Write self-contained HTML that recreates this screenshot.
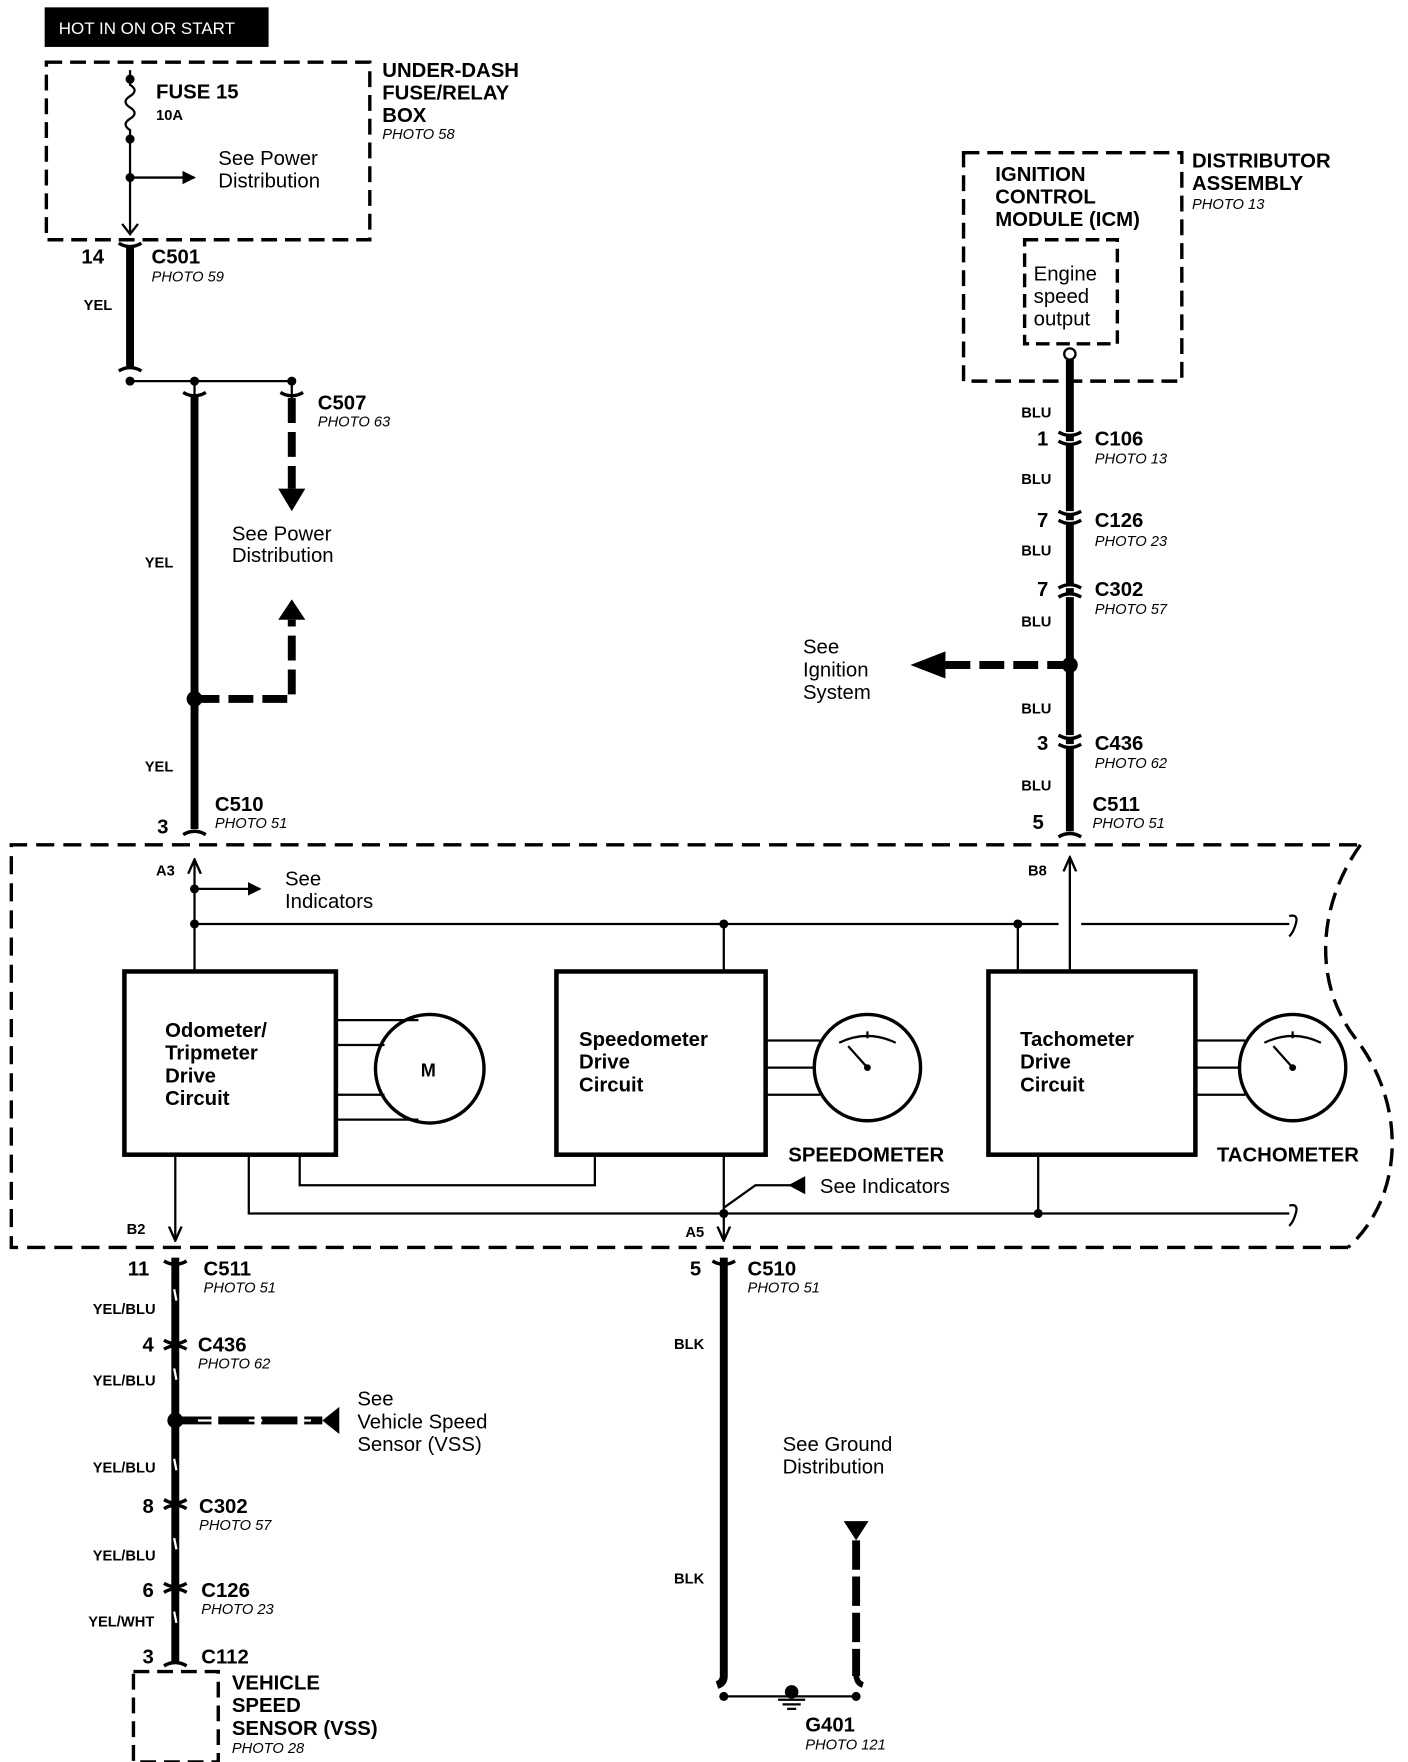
<!DOCTYPE html>
<html><head><meta charset="utf-8"><style>
html,body{margin:0;padding:0;background:#fff;}
svg{display:block}
text{font-family:"Liberation Sans",Arial,sans-serif;fill:#000}
.b{font-weight:bold;font-size:18px}
.s{font-weight:bold;font-size:13px}
.p{font-style:italic;font-size:13px}
.n{font-size:18px}
</style></head><body>
<svg width="1408" height="1762" viewBox="0 0 1245 1558" preserveAspectRatio="none" xmlns="http://www.w3.org/2000/svg">
<defs>
<marker id="ah" viewBox="0 0 10 10" refX="9" refY="5" markerWidth="6" markerHeight="6" orient="auto"><path d="M0 0 L10 5 L0 10 z" fill="#000"/></marker>
<marker id="oa" viewBox="0 0 10 10" refX="9" refY="5" markerWidth="7" markerHeight="7" orient="auto"><path d="M0 1 L9 5 L0 9" fill="none" stroke="#000" stroke-width="1.5"/></marker>
</defs>
<g stroke="#000" fill="none">
<rect x="40" y="7" width="197" height="34" fill="#000"/>
<rect x="41" y="55" width="286" height="157" stroke-width="3" stroke-dasharray="14,7"/>
<path d="M115 62 V75 q8 5 0 10 q-8 5 0 10 q8 5 0 10 q-8 5 0 10 V205" stroke-width="2"/>
<path d="M108 198 L115 207 L122 198" stroke-width="2"/>
<path d="M115 157 H172" stroke-width="2" marker-end="url(#ah)"/>
<path d="M115 218 V325" stroke-width="7"/>
<path d="M105 215 q10 6 20 0 M105 328 q10 -6 20 0" stroke-width="3"/>
<path d="M115 337 H258" stroke-width="2"/>
<path d="M172 350 V733" stroke-width="7"/>
<path d="M162 347 q10 6 20 0 M162 738 q10 -6 20 0 M248 347 q10 6 20 0" stroke-width="3"/>
<path d="M258 352 V432" stroke-width="7" stroke-dasharray="22,8"/>
<path d="M172 337 V352 M258 337 V352" stroke-width="2"/>
<path d="M172 618 H258 V548" stroke-width="7" stroke-dasharray="22,8"/>
<rect x="852" y="135" width="193" height="202" stroke-width="3" stroke-dasharray="14,7"/>
<rect x="906" y="212" width="82" height="92" stroke-width="3" stroke-dasharray="12,6"/>
<path d="M946 318 V735" stroke-width="7"/>
<path d="M836 588 H946" stroke-width="7" stroke-dasharray="22,8"/>
<g stroke-width="3" fill="#fff">
<path d="M936 382 q10 6 20 0 M936 390 q10 6 20 0"/>
<path d="M936 452 q10 6 20 0 M936 460 q10 6 20 0"/>
<path d="M936 520 q10 -6 20 0 M936 528 q10 -6 20 0"/>
<path d="M936 650 q10 6 20 0 M936 658 q10 6 20 0"/>
<path d="M936 740 q10 -6 20 0"/>
</g>
<path d="M1192 1103 H10 V747 H1203" stroke-width="3" stroke-dasharray="16,8"/>
<path d="M1203 747 C1165 800,1160 870,1200 920 C1245 980,1240 1060,1192 1103" stroke-width="3" stroke-dasharray="16,8"/>
<path d="M172 858 V760" stroke-width="2" marker-end="url(#oa)"/>
<path d="M172 786 H230" stroke-width="2" marker-end="url(#ah)"/>
<path d="M172 817 H936 M956 817 H1140" stroke-width="2"/>
<path d="M1140 810 q8 -2 6 6 q-2 8 -6 12" stroke-width="2"/>
<path d="M640 817 V858 M900 817 V858" stroke-width="2"/>
<path d="M946 858 V758" stroke-width="2" marker-end="url(#oa)"/>
<rect x="110" y="859" width="187" height="162" stroke-width="4"/>
<rect x="492" y="859" width="185" height="162" stroke-width="4"/>
<rect x="874" y="859" width="183" height="162" stroke-width="4"/>
<circle cx="380" cy="945" r="48" stroke-width="3"/>
<path d="M297 902 H370 M297 924 H340 M297 968 H340 M297 990 H370" stroke-width="2"/>
<circle cx="767" cy="944" r="47" stroke-width="3"/>
<path d="M677 920 H725 M677 944 H720 M677 968 H725" stroke-width="2"/>
<path d="M742 922 Q767 910 792 922 M767 912 V918 M750 925 L767 944" stroke-width="2"/>
<circle cx="1143" cy="944" r="47" stroke-width="3"/>
<path d="M1057 920 H1101 M1057 944 H1096 M1057 968 H1101" stroke-width="2"/>
<path d="M1118 922 Q1143 910 1168 922 M1143 912 V918 M1126 925 L1143 944" stroke-width="2"/>
<path d="M155 1021 V1097" stroke-width="2" marker-end="url(#oa)"/>
<path d="M220 1021 V1073 H1140 M918 1021 V1073" stroke-width="2"/>
<path d="M1140 1066 q8 -2 6 6 q-2 8 -6 12" stroke-width="2"/>
<path d="M265 1021 V1048 H526 V1021" stroke-width="2"/>
<path d="M640 1021 V1097" stroke-width="2" marker-end="url(#oa)"/>
<path d="M640 1068 L668 1048 H700" stroke-width="2"/>
<path d="M155 1112 V1470" stroke-width="7"/>
<path d="M155 1256 H285" stroke-width="7" stroke-dasharray="32,6"/>
<g stroke-width="3">
<path d="M145 1115 q10 6 20 0"/>
<path d="M145 1185 q10 6 20 0 M145 1193 q10 -6 20 0"/>
<path d="M145 1326 q10 6 20 0 M145 1334 q10 -6 20 0"/>
<path d="M145 1400 q10 6 20 0 M145 1408 q10 -6 20 0"/>
<path d="M145 1473 q10 -6 20 0"/>
</g>
<rect x="118" y="1478" width="75" height="80" stroke-width="3" stroke-dasharray="14,7"/>
<path d="M640 1112 V1482 q0 6 -6 8" stroke-width="7"/>
<path d="M630 1115 q10 6 20 0" stroke-width="3"/>
<path d="M757 1362 V1482" stroke-width="7" stroke-dasharray="26,6"/>
<path d="M757 1480 q0 8 6 10" stroke-width="5"/>
<path d="M640 1500 H757" stroke-width="2"/>
</g>
<g fill="#000">
<path d="M246 432 H270 L258 452 z"/>
<path d="M246 548 H270 L258 530 z"/>
<path d="M836 576 V600 L805 588 z"/>
<path d="M746 1345 H768 L757 1362 z"/>
<path d="M697 1048 L712 1040 V1056 z"/>
<circle cx="115" cy="70" r="4"/><circle cx="115" cy="123" r="4"/><circle cx="115" cy="157" r="4"/>
<circle cx="115" cy="337" r="4"/><circle cx="172" cy="337" r="4"/><circle cx="258" cy="337" r="4"/>
<circle cx="172" cy="618" r="7"/><circle cx="946" cy="588" r="7"/><circle cx="155" cy="1256" r="7"/>
<circle cx="172" cy="786" r="4"/><circle cx="172" cy="817" r="4"/><circle cx="640" cy="817" r="4"/><circle cx="900" cy="817" r="4"/>
<circle cx="640" cy="1073" r="4"/><circle cx="918" cy="1073" r="4"/>
<circle cx="640" cy="1500" r="4"/><circle cx="757" cy="1500" r="4"/>
<circle cx="767" cy="944" r="3"/><circle cx="1143" cy="944" r="3"/>
<circle cx="700" cy="1496" r="6"/>
</g>
<path d="M688 1503 H712 M692 1507 H708 M696 1511 H704" stroke="#000" stroke-width="2"/>
<circle cx="946" cy="313" r="5" fill="#fff" stroke="#000" stroke-width="2"/>
<g stroke="#fff" stroke-width="2">
<path d="M154 1140 l2 10 M154 1210 l2 10 M154 1290 l2 10 M154 1360 l2 10 M154 1425 l2 10"/>
<path d="M175 1256 h12 M220 1256 h12 M265 1256 h10"/>
</g>
<path d="M300 1244 V1268 L285 1256 z" fill="#000"/>

<text x="52" y="30" style="fill:#fff;font-size:15px">HOT IN ON OR START</text>
<text x="138" y="87" class="b">FUSE 15</text>
<text x="138" y="106" class="s">10A</text>
<text x="193" y="146" class="n">See Power</text>
<text x="193" y="166" class="n">Distribution</text>
<text x="338" y="68" class="b">UNDER-DASH</text>
<text x="338" y="88" class="b">FUSE/RELAY</text>
<text x="338" y="108" class="b">BOX</text>
<text x="338" y="123" class="p">PHOTO 58</text>
<text x="72" y="233" class="b">14</text>
<text x="134" y="233" class="b">C501</text>
<text x="134" y="249" class="p">PHOTO 59</text>
<text x="74" y="274" class="s">YEL</text>
<text x="281" y="362" class="b">C507</text>
<text x="281" y="377" class="p">PHOTO 63</text>
<text x="205" y="478" class="n">See Power</text>
<text x="205" y="497" class="n">Distribution</text>
<text x="128" y="502" class="s">YEL</text>
<text x="128" y="682" class="s">YEL</text>
<text x="190" y="717" class="b">C510</text>
<text x="190" y="732" class="p">PHOTO 51</text>
<text x="139" y="737" class="b">3</text>
<text x="880" y="160" class="b">IGNITION</text>
<text x="880" y="180" class="b">CONTROL</text>
<text x="880" y="200" class="b">MODULE (ICM)</text>
<text x="1054" y="148" class="b">DISTRIBUTOR</text>
<text x="1054" y="168" class="b">ASSEMBLY</text>
<text x="1054" y="185" class="p">PHOTO 13</text>
<text x="914" y="248" class="n">Engine</text>
<text x="914" y="268" class="n">speed</text>
<text x="914" y="288" class="n">output</text>
<text x="903" y="369" class="s">BLU</text>
<text x="917" y="394" class="b">1</text>
<text x="968" y="394" class="b">C106</text>
<text x="968" y="410" class="p">PHOTO 13</text>
<text x="903" y="428" class="s">BLU</text>
<text x="917" y="466" class="b">7</text>
<text x="968" y="466" class="b">C126</text>
<text x="968" y="483" class="p">PHOTO 23</text>
<text x="903" y="491" class="s">BLU</text>
<text x="917" y="527" class="b">7</text>
<text x="968" y="527" class="b">C302</text>
<text x="968" y="543" class="p">PHOTO 57</text>
<text x="903" y="554" class="s">BLU</text>
<text x="710" y="578" class="n">See</text>
<text x="710" y="598" class="n">Ignition</text>
<text x="710" y="618" class="n">System</text>
<text x="903" y="631" class="s">BLU</text>
<text x="917" y="663" class="b">3</text>
<text x="968" y="663" class="b">C436</text>
<text x="968" y="679" class="p">PHOTO 62</text>
<text x="903" y="699" class="s">BLU</text>
<text x="913" y="733" class="b">5</text>
<text x="966" y="717" class="b">C511</text>
<text x="966" y="732" class="p">PHOTO 51</text>
<text x="138" y="774" class="s">A3</text>
<text x="909" y="774" class="s">B8</text>
<text x="252" y="783" class="n">See</text>
<text x="252" y="803" class="n">Indicators</text>
<text x="146" y="917" class="b">Odometer/</text>
<text x="146" y="937" class="b">Tripmeter</text>
<text x="146" y="957" class="b">Drive</text>
<text x="146" y="977" class="b">Circuit</text>
<text x="372" y="952" class="s" style="font-size:16px">M</text>
<text x="512" y="925" class="b">Speedometer</text>
<text x="512" y="945" class="b">Drive</text>
<text x="512" y="965" class="b">Circuit</text>
<text x="902" y="925" class="b">Tachometer</text>
<text x="902" y="945" class="b">Drive</text>
<text x="902" y="965" class="b">Circuit</text>
<text x="697" y="1027" class="b">SPEEDOMETER</text>
<text x="1076" y="1027" class="b">TACHOMETER</text>
<text x="725" y="1055" class="n">See Indicators</text>
<text x="112" y="1091" class="s">B2</text>
<text x="606" y="1094" class="s">A5</text>
<text x="113" y="1128" class="b">11</text>
<text x="180" y="1128" class="b">C511</text>
<text x="180" y="1143" class="p">PHOTO 51</text>
<text x="82" y="1162" class="s">YEL/BLU</text>
<text x="126" y="1195" class="b">4</text>
<text x="175" y="1195" class="b">C436</text>
<text x="175" y="1210" class="p">PHOTO 62</text>
<text x="82" y="1225" class="s">YEL/BLU</text>
<text x="316" y="1243" class="n">See</text>
<text x="316" y="1263" class="n">Vehicle Speed</text>
<text x="316" y="1283" class="n">Sensor (VSS)</text>
<text x="82" y="1302" class="s">YEL/BLU</text>
<text x="126" y="1338" class="b">8</text>
<text x="176" y="1338" class="b">C302</text>
<text x="176" y="1353" class="p">PHOTO 57</text>
<text x="82" y="1380" class="s">YEL/BLU</text>
<text x="126" y="1412" class="b">6</text>
<text x="178" y="1412" class="b">C126</text>
<text x="178" y="1427" class="p">PHOTO 23</text>
<text x="78" y="1438" class="s">YEL/WHT</text>
<text x="126" y="1471" class="b">3</text>
<text x="178" y="1471" class="b">C112</text>
<text x="205" y="1494" class="b">VEHICLE</text>
<text x="205" y="1514" class="b">SPEED</text>
<text x="205" y="1534" class="b">SENSOR (VSS)</text>
<text x="205" y="1550" class="p">PHOTO 28</text>
<text x="610" y="1128" class="b">5</text>
<text x="661" y="1128" class="b">C510</text>
<text x="661" y="1143" class="p">PHOTO 51</text>
<text x="596" y="1193" class="s">BLK</text>
<text x="596" y="1400" class="s">BLK</text>
<text x="692" y="1283" class="n">See Ground</text>
<text x="692" y="1303" class="n">Distribution</text>
<text x="712" y="1531" class="b">G401</text>
<text x="712" y="1547" class="p">PHOTO 121</text>
</svg>
</body></html>
